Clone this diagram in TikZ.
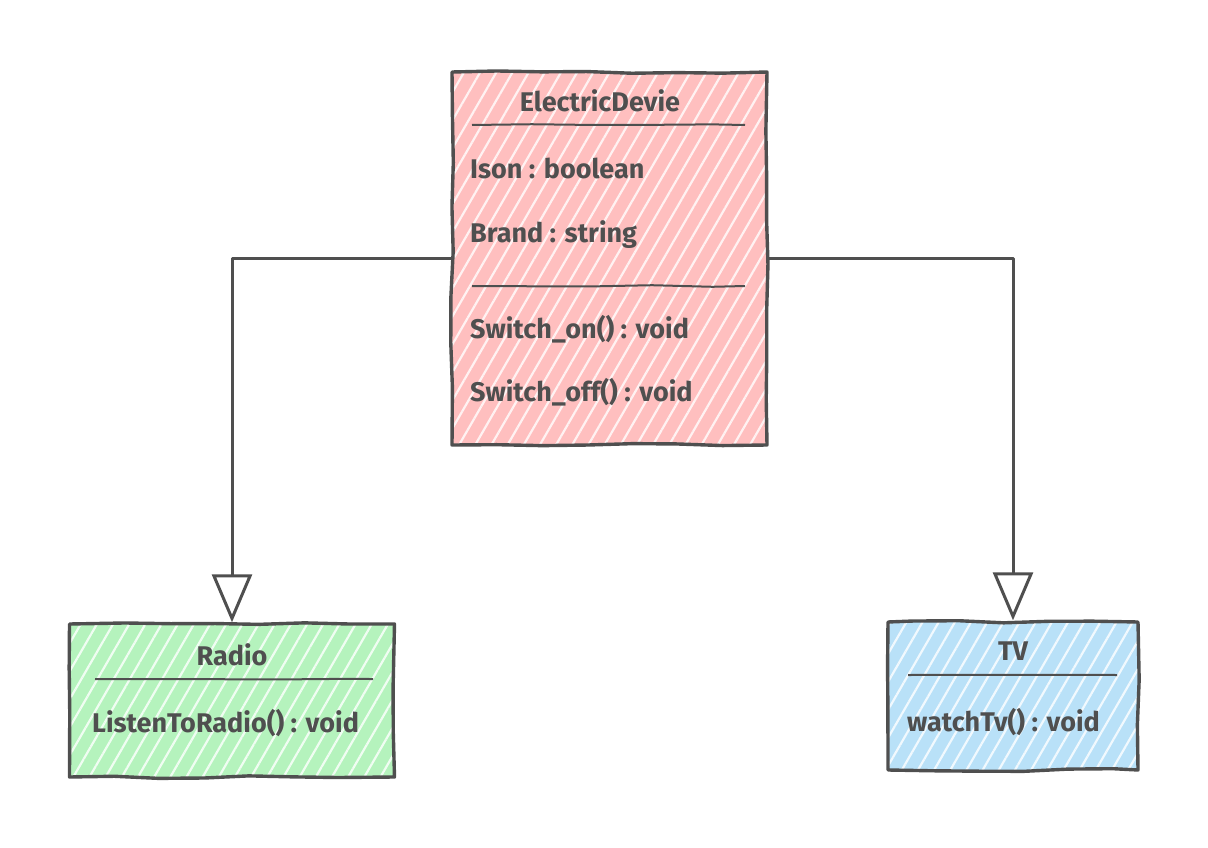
\documentclass[tikz,border=0pt]{standalone}
\usepackage{fontspec}
\setmainfont{Fira Sans}
\usetikzlibrary{patterns.meta,arrows.meta,decorations.pathmorphing}
\definecolor{ink}{HTML}{4F4F4F}
\definecolor{pinkfill}{HTML}{FFBFBF}
\definecolor{greenfill}{HTML}{B5F3BD}
\definecolor{bluefill}{HTML}{B9E1F8}
\pgfmathsetseed{7}
\tikzset{
  classbox/.style={rectangle, draw=ink, line width=3.4pt, inner sep=0pt,
    line join=round,
    decorate, decoration={random steps, segment length=45pt, amplitude=1.4pt},
    preaction={fill=#1},
    pattern={Lines[angle=60,distance=14pt,line width=2.2pt]},
    pattern color=white!80!#1},
  label/.style={text=ink, font=\fontsize{27}{32}\selectfont\bfseries, inner sep=0pt},
  title/.style={label, anchor=center},
  member/.style={label, anchor=west},
  sep/.style={draw=ink, line width=2pt, decorate,
    decoration={random steps, segment length=60pt, amplitude=0.8pt}},
  link/.style={draw=ink, line width=3pt, line join=round,
    -{Triangle[open,length=48pt,width=40pt,line width=3pt]}}
}
\begin{document}
\begin{tikzpicture}[x=1pt,y=-1pt]
\useasboundingbox (0,0) rectangle (1208,848);

% parent class
\node[classbox=pinkfill, minimum width=315pt, minimum height=373pt] (ed) at (609.5,258.5) {};
\node[title] (edname) at (600,101) {ElectricDevie};
\draw[sep] (472,125) -- (745,125);
\node[member] (a1) at (470,168) {Ison : boolean};
\node[member] (a2) at (470,235) {Brand : string};
\draw[sep] (472,286) -- (745,286);
\node[member] (m1) at (470,329) {Switch\_on() : void};
\node[member] (m2) at (470,392) {Switch\_off() : void};

% subclass Radio
\node[classbox=greenfill, minimum width=325pt, minimum height=153pt] (radio) at (232,700.5) {};
\node[title] (radioname) at (232,655) {Radio};
\draw[sep] (95,679) -- (373,679);
\node[member] (r1) at (92,723) {ListenToRadio() : void};

% subclass TV
\node[classbox=bluefill, minimum width=250pt, minimum height=148pt] (tv) at (1013,696) {};
\node[title] (tvname) at (1013,651) {TV};
\draw[sep] (908,675) -- (1117,675);
\node[member] (t1) at (907,722) {watchTv() : void};

% generalisation links
\draw[link] (ed.west) -| (radio.north);
\draw[link] (ed.east) -| (tv.north);
\end{tikzpicture}
\end{document}
